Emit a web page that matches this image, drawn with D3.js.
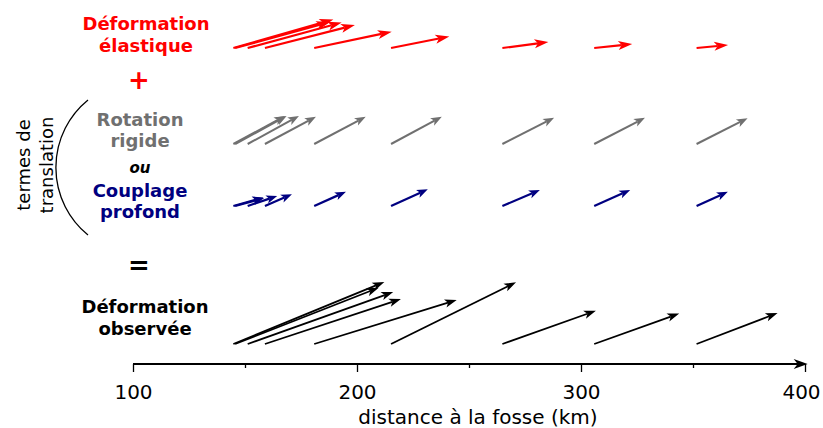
<!DOCTYPE html>
<html><head><meta charset="utf-8">
<script src="https://cdn.jsdelivr.net/npm/d3@7"></script>
<style>body{margin:0;background:#fff}svg{display:block}text{font-family:"DejaVu Sans",sans-serif}</style>
</head><body>
<svg id="c" width="823" height="428"></svg>
<script>
// distance à la fosse (km) of each station
const stations = [144.8, 145.6, 151.2, 158.9, 180.9, 215.2, 264.9, 305.9, 351.6];
// vectors [east, north] (mm/an)
const elastique = [[40.0,11.4],[38.0,10.4],[37.6,10.2],[36.0,9.2],[31.0,6.5],[23.3,4.6],[18.4,2.4],[15.2,1.6],[12.6,1.2]];
const rotation  = [[20.7,11.2],[20.6,11.2],[20.5,11.2],[20.4,10.9],[20.6,10.9],[20.3,10.9],[20.7,10.5],[20.3,10.5],[20.4,10.3]];
const couplage  = [[12.0,3.4],[11.6,3.2],[11.8,4.0],[10.8,4.7],[12.7,5.7],[14.7,6.7],[15.0,6.4],[14.4,6.4],[12.5,5.7]];
const observee  = [[60.4,24.8],[57.4,22.5],[58.2,20.8],[54.4,18.0],[57.0,17.6],[50.0,24.7],[37.4,13.3],[34.0,12.2],[32.4,12.4]];
const majorTicks = [100, 200, 300, 400];
const minorTicks = [150, 250, 350];
const xLabel = "distance à la fosse (km)";

const svg = d3.select("#c");
const x = d3.scaleLinear().domain([100, 400]).range([133, 805]);
const v = d3.scaleLinear().domain([0, 1]).range([0, 2.5]);

function drawRow(data, y0, color, sw, hl, hw) {
  const g = svg.append("g");
  data.forEach((d, i) => {
    const x0 = x(stations[i]);
    const dx = v(d[0]), dy = -v(d[1]);
    const L = Math.hypot(dx, dy), ux = dx / L, uy = dy / L;
    const x1 = x0 + dx, y1 = y0 + dy;
    const bx = x1 - ux * hl, by = y1 - uy * hl;
    const nx = x1 - ux * hl * 0.75, ny = y1 - uy * hl * 0.75;
    g.append("line").attr("x1", x0).attr("y1", y0).attr("x2", nx).attr("y2", ny)
      .attr("stroke", color).attr("stroke-width", sw);
    g.append("path").attr("d", `M${x1},${y1}L${bx - uy*hw},${by + ux*hw}L${nx},${ny}L${bx + uy*hw},${by - ux*hw}Z`)
      .attr("fill", color);
  });
}
drawRow(elastique, 48, "#ff0000", 2.2, 14, 4.5);
drawRow(rotation, 144, "#707070", 2, 11, 4.2);
drawRow(couplage, 206, "#000080", 2.2, 11, 4.2);
drawRow(observee, 344, "#000000", 1.8, 12, 4.2);

// labels
function lab(t, cx, y, color, size, style) {
  svg.append("text").attr("x", cx).attr("y", y).attr("text-anchor", "middle")
    .attr("fill", color).attr("font-size", size).attr("font-weight", "bold")
    .attr("font-style", style || "normal").text(t);
}
lab("Déformation", 146, 30, "#ff0000", 18);
lab("élastique", 146, 52, "#ff0000", 18);
lab("+", 139, 89, "#ff0000", 26);
lab("Rotation", 140, 126, "#707070", 18);
lab("rigide", 140, 147, "#707070", 18);
lab("ou", 140, 173, "#000000", 15, "italic");
lab("Couplage", 140, 197, "#000080", 18);
lab("profond", 140, 218, "#000080", 18);
lab("=", 139, 274, "#000000", 26);
lab("Déformation", 145, 313, "#000000", 18);
lab("observée", 145, 335, "#000000", 18);

// bracket
svg.append("path").attr("d", "M88,100 A87,87 0 0 0 88,235")
  .attr("fill", "none").attr("stroke", "#000").attr("stroke-width", 1.3);
const tt = svg.append("text").attr("transform", "translate(30,165) rotate(-90)")
  .attr("text-anchor", "middle").attr("font-size", 18).attr("fill", "#000");
tt.append("tspan").attr("x", 0).attr("dy", 0).text("termes de");
tt.append("tspan").attr("x", 0).attr("dy", 23).text("translation");

// axis
const axY = 364;
svg.append("g").attr("transform", `translate(0,${axY})`)
  .call(d3.axisBottom(x).tickValues(majorTicks).tickSize(8).tickPadding(13).tickFormat(d3.format("d")))
  .call(g => g.select(".domain").remove())
  .call(g => g.selectAll("line").attr("stroke-width", 1.3))
  .call(g => g.selectAll("text").attr("font-size", 20).attr("font-family", "DejaVu Sans").attr("fill", "#000"))
  .call(g => g.selectAll(".tick").filter(d => d === 400).select("text").attr("dx", -4));
svg.append("g").attr("transform", `translate(0,${axY})`)
  .call(d3.axisBottom(x).tickValues(minorTicks).tickSize(4).tickFormat(""))
  .call(g => g.select(".domain").remove())
  .call(g => g.selectAll("line").attr("stroke-width", 1.3));
svg.append("line").attr("x1", x(100)).attr("x2", x(399)).attr("y1", axY).attr("y2", axY)
  .attr("stroke", "#000").attr("stroke-width", 2.2);
const tip = x(401.2);
svg.append("path").attr("d", `M${tip},${axY}L${tip-14},${axY-5}L${tip-10},${axY}L${tip-14},${axY+5}Z`).attr("fill", "#000");
svg.append("text").attr("x", x(254)).attr("y", 424).attr("text-anchor", "middle")
  .attr("font-size", 20).attr("fill", "#000").text(xLabel);
</script>
</body></html>
